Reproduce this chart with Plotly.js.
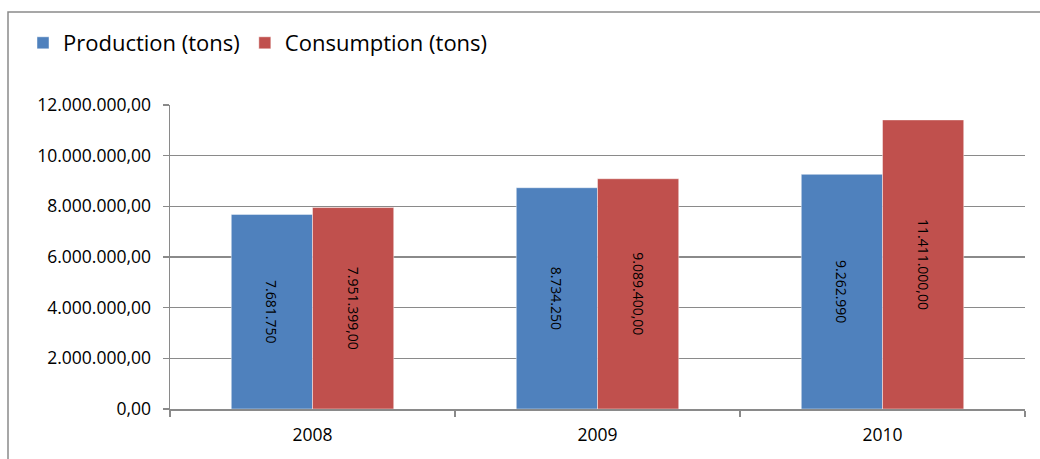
<!DOCTYPE html>
<html>
<head>
<meta charset="utf-8">
<script src="https://cdn.plot.ly/plotly-3.0.1.min.js"></script>
<style>
  html, body { margin: 0; padding: 0; background: #ffffff; }
  #chart { width: 1040px; height: 459px; }
</style>
</head>
<body>
<div id="chart"></div>
<script>
// Yearly figures, in tons
const years = ['2008', '2009', '2010'];
const production = [7681750, 8734250, 9262990];
const consumption = [7951399, 9089400, 11411000];
const yTicks = [0, 2000000, 4000000, 6000000, 8000000, 10000000, 12000000];

// Dotted thousands, comma decimals
function fmt(v, decimals) {
  const fixed = v.toFixed(decimals);
  const parts = fixed.split('.');
  const intPart = parts[0].replace(/\B(?=(\d{3})+(?!\d))/g, '.');
  return decimals > 0 ? intPart + ',' + parts[1] : intPart;
}

const FONT = '"Open Sans", Lato, sans-serif';
const GRID = '#8a8a8a';

const W = 1040, H = 459;
const M = { l: 170, r: 15, t: 105, b: 50 };
const pw = W - M.l - M.r, ph = H - M.t - M.b;
// pixel -> paper coordinates for the outer frame and legend
const px = x => (x - M.l) / pw;
const py = y => (H - M.b - y) / ph;

const barText = { size: 14, color: '#000000', family: FONT };

const traces = [
  {
    type: 'bar', name: 'Production (tons)',
    x: years, y: production,
    text: production.map(v => fmt(v, 0)),
    textposition: 'inside', insidetextanchor: 'middle',
    textangle: 90, constraintext: 'none',
    textfont: barText, insidetextfont: barText,
    marker: { color: '#4f81bd', line: { color: 'rgba(255,255,255,0.45)', width: 1 } },
    hoverinfo: 'none'
  },
  {
    type: 'bar', name: 'Consumption (tons)',
    x: years, y: consumption,
    text: consumption.map(v => fmt(v, 2)),
    textposition: 'inside', insidetextanchor: 'middle',
    textangle: 90, constraintext: 'none',
    textfont: barText, insidetextfont: barText,
    marker: { color: '#c0504d', line: { color: 'rgba(255,255,255,0.45)', width: 1 } },
    hoverinfo: 'none'
  }
];

const layout = {
  width: W, height: H,
  margin: M,
  paper_bgcolor: '#ffffff',
  plot_bgcolor: '#ffffff',
  font: { family: FONT, color: '#000000' },
  barmode: 'group',
  bargap: 0.43,
  bargroupgap: 0,
  showlegend: true,
  legend: {
    orientation: 'h',
    x: px(23), y: py(43), xanchor: 'left', yanchor: 'middle',
    bgcolor: 'rgba(0,0,0,0)',
    font: { size: 22, family: FONT, color: '#000000' },
    itemwidth: 30,
    traceorder: 'normal'
  },
  xaxis: {
    type: 'category',
    showgrid: false,
    showline: true, linecolor: GRID, linewidth: 1.5,
    ticks: 'outside', tickson: 'boundaries', ticklen: 6, tickcolor: GRID, tickwidth: 1.5,
    tickfont: { size: 17.5, family: FONT, color: '#000000' },
    ticklabelstandoff: 9,
    zeroline: false
  },
  yaxis: {
    range: [0, 12000000],
    tickvals: yTicks,
    ticktext: yTicks.map(v => fmt(v, 2)),
    showgrid: true, gridcolor: GRID, gridwidth: 1.5,
    showline: true, linecolor: GRID, linewidth: 1.5,
    ticks: 'outside', ticklen: 6, tickcolor: GRID, tickwidth: 1.5,
    tickfont: { size: 17.5, family: FONT, color: '#000000' },
    ticklabelstandoff: 8,
    zeroline: false
  },
  shapes: [
    {
      type: 'rect', xref: 'paper', yref: 'paper',
      x0: px(8), x1: px(1060), y0: py(480), y1: py(12),
      line: { color: '#8a8a8a', width: 1.5 },
      fillcolor: 'rgba(0,0,0,0)', layer: 'below'
    }
  ]
};

Plotly.newPlot('chart', traces, layout, { displayModeBar: false, staticPlot: true });
</script>
</body>
</html>
